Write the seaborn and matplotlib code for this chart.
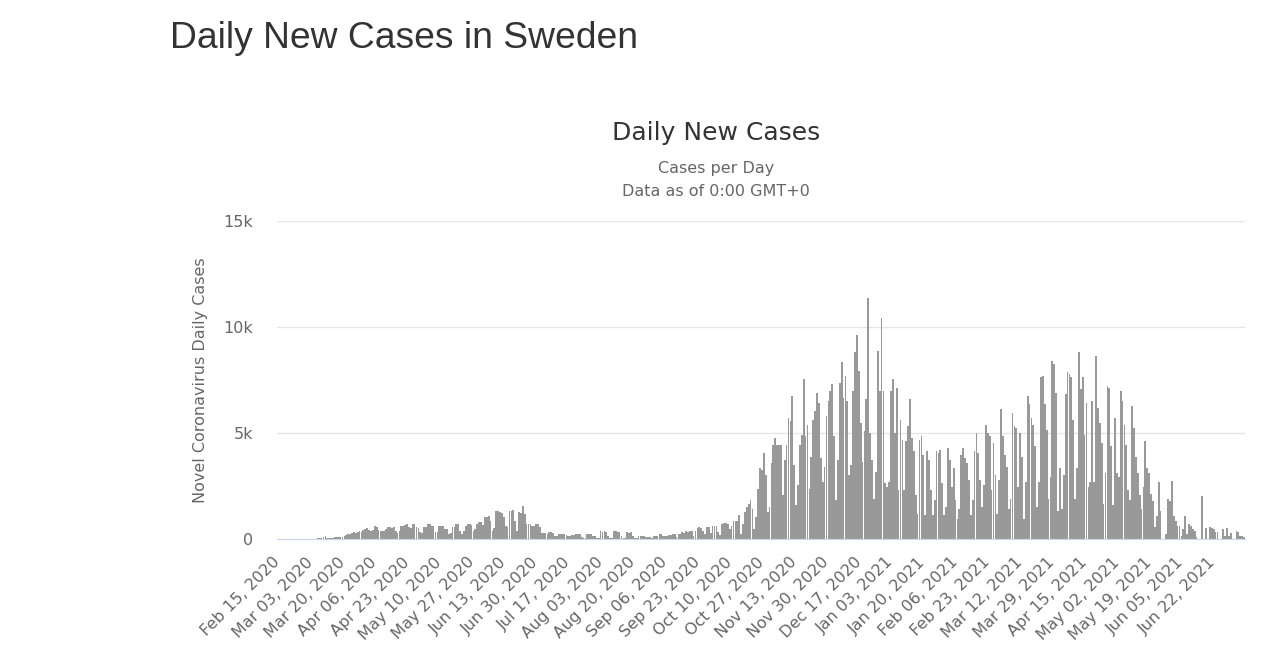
import matplotlib
matplotlib.use("Agg")
import matplotlib.pyplot as plt
import seaborn as sns
import pandas as pd

# daily new cases, starting Feb 15, 2020
cases_feb_oct_2020 = [
    0, 0, 0, 0, 0, 0, 0, 0, 0, 0, 0, 0, 1, 1,
    5, 0, 1, 1, 5, 4, 10,
    24, 40, 45, 102, 157, 60, 50,
    45, 60, 80, 75, 85, 90, 110,
    150, 180, 230, 240, 270, 315, 300,
    330, 390, 315, 420, 480, 520, 430,
    380, 420, 630, 560, 425, 390, 390,
    400, 470, 550, 550, 540, 550, 390,
    300, 390, 630, 610, 680, 700, 550,
    530, 700, 690, 560, 540, 315, 300,
    550, 560, 700, 690, 630, 620, 315,
    330, 620, 630, 610, 470, 460, 235,
    300, 550, 560, 700, 690, 390, 235,
    400, 630, 700, 690, 680, 390, 450,
    700, 785, 780, 650, 1020, 1050, 1100,
    870, 390, 500, 1340, 1320, 1260, 1240,
    1020, 600, 550, 1340, 1330, 1370, 870,
    400, 1260, 1250, 1570, 1180, 700, 690,
    700, 630, 600, 700, 690, 550, 300,
    270, 260, 250, 315, 310, 300, 157,
    150, 235, 235, 220, 235, 200, 157,
    150, 200, 200, 235, 230, 235, 80,
    70, 50, 235, 230, 235, 157, 150,
    60, 50, 360, 350, 360, 340, 157,
    60, 50, 390, 380, 315, 315, 157,
    60, 50, 315, 300, 315, 157, 60,
    40, 157, 157, 150, 157, 110, 110,
    100, 40, 157, 160, 157, 235, 230,
    157, 150, 157, 200, 200, 235, 235,
    100, 235, 235, 315, 300, 360, 350,
    390, 380, 157, 390, 530, 550, 540,
    390, 250, 550, 550, 300, 620, 630,
    610, 315, 200, 720, 740, 740, 700,
]

cases_oct_jan = [
    475, 630, 870, 870, 870, 1110, 240, 715, 1270, 1500,
    1670, 1825, 1430, 475, 1030, 2380, 3330, 3250, 4050, 3015,
    1270, 1500, 3570, 4440, 4760, 4440, 4440, 4440, 2060, 3730,
    4440, 5710, 5555, 6745, 3490, 1590, 2540, 4440, 4920, 7540,
    4840, 5400, 2380, 3890, 5630, 6030, 6900, 6430, 3810, 2700,
    3410, 5790, 6510, 6980, 7300, 4840, 1825, 3730, 7380, 8330,
    6665, 7700, 6510, 3015, 3490, 6980, 8810, 9600, 7935, 5475,
    3650, 5080, 6585, 11380, 5000, 3730, 1905, 3175, 8890, 6980,
    10430, 6980, 2620, 2460, 2700, 6980, 7540, 5000, 7140,
]

cases_jan_mar = [
    2300, 5630, 4680, 2300, 4600, 5320, 6585, 4760, 4130, 2060,
    1190, 4680, 4870, 3970, 1110, 4130, 3730, 2300, 1110, 1825,
    4130, 4050, 4200, 2620, 1110, 1510, 4285, 3730, 2460, 3330,
    1825, 950, 1430, 3970, 4285, 3810, 3570, 2780, 1110, 1825,
    4130, 5000, 4050, 2780, 1510, 2540, 5400, 5000, 4840, 2300,
    4520, 3015, 1190, 2780, 6140, 4840, 3970, 3410, 1430, 1905,
    5920, 5320, 5240, 2460, 5000, 3890, 950, 2700, 6745, 6350,
    5710, 5400, 4365, 1510, 2700, 7620, 7700, 6350, 5160, 1905,
    2940, 8410, 8250, 6900,
]

cases_apr_jul = [
    1300,
    3330, 1430, 3015, 6825, 7855, 7775, 7620, 5630, 1905, 3330,
    8840, 7060, 7620, 4920, 6430, 2460, 2700, 6500, 2700, 8650,
    6190, 5475, 4520, 1670, 3100, 7220, 7140, 4365, 1590, 5710,
    3100, 2940, 6980, 6500, 5400, 4440, 2300, 1825, 6270, 5240,
    3890, 3100, 2060, 1430, 2460, 4600, 3330, 3100, 2140,
    1810, 550, 1100, 2670, 1340, 0, 0, 235, 1890, 1810,
    2750, 1100, 865, 630, 630, 157, 470, 1100, 235, 710,
    630, 470, 390, 80, 0, 0, 2040, 0, 520, 0,
    580, 520, 470, 315, 315, 0, 0, 470, 157, 520,
    157, 270, 0, 0, 390, 315, 157, 157, 80,
]

cases = cases_feb_oct_2020 + cases_oct_jan + cases_jan_mar + cases_apr_jul
dates = pd.date_range("2020-02-15", periods=len(cases))
df = pd.DataFrame({"date": dates.strftime("%b %d, %Y"), "cases": cases})

y_ticks = [0, 5000, 10000, 15000]
y_labels = ["0", "5k", "10k", "15k"]

sns.set_style("white")
plt.rcParams["font.family"] = ["DejaVu Sans"]

fig = plt.figure(figsize=(12.8, 6.63), dpi=100)
ax = fig.add_axes([277 / 1280, 1 - 539 / 663, 968 / 1280, 318 / 663])

sns.barplot(data=df, x="date", y="cases", color="#999999", saturation=1,
            width=0.92, errorbar=None, linewidth=0, ax=ax)

ax.set_xlim(-0.5, len(df) - 0.5)
ax.set_ylim(0, 15000)
ax.set_yticks(y_ticks)
ax.set_yticklabels(y_labels)

ticks = list(range(0, len(df), 17))
ax.set_xticks(ticks)
ax.set_xticklabels(df["date"].iloc[ticks], rotation=45, ha="right",
                   rotation_mode="anchor", va="center")

ax.yaxis.grid(True, color="#e6e6e6", linewidth=1)
ax.set_axisbelow(True)
for side in ["left", "top", "right"]:
    ax.spines[side].set_visible(False)
ax.spines["bottom"].set_color("#ccd6eb")
ax.tick_params(axis="both", length=0, labelcolor="#666666", labelsize=11.5)
ax.tick_params(axis="y", pad=17)
ax.tick_params(axis="x", pad=15)

ax.set_xlabel("")
ax.set_ylabel("Novel Coronavirus Daily Cases", color="#666666", fontsize=11.5)
ax.yaxis.set_label_coords(-0.071, 0.5)

fig.text(170 / 1280, 1 - 38 / 663, "Daily New Cases in Sweden", fontsize=26.8,
         color="#333333", va="center", ha="left", family="Liberation Sans")
fig.text(716 / 1280, 1 - 133 / 663, "Daily New Cases", fontsize=18,
         color="#333333", va="center", ha="center")
fig.text(716 / 1280, 1 - 168 / 663, "Cases per Day", fontsize=11.5,
         color="#666666", va="center", ha="center")
fig.text(716 / 1280, 1 - 191 / 663, "Data as of 0:00 GMT+0", fontsize=11.5,
         color="#666666", va="center", ha="center")

fig.savefig("out.png", dpi=100, facecolor="white")
